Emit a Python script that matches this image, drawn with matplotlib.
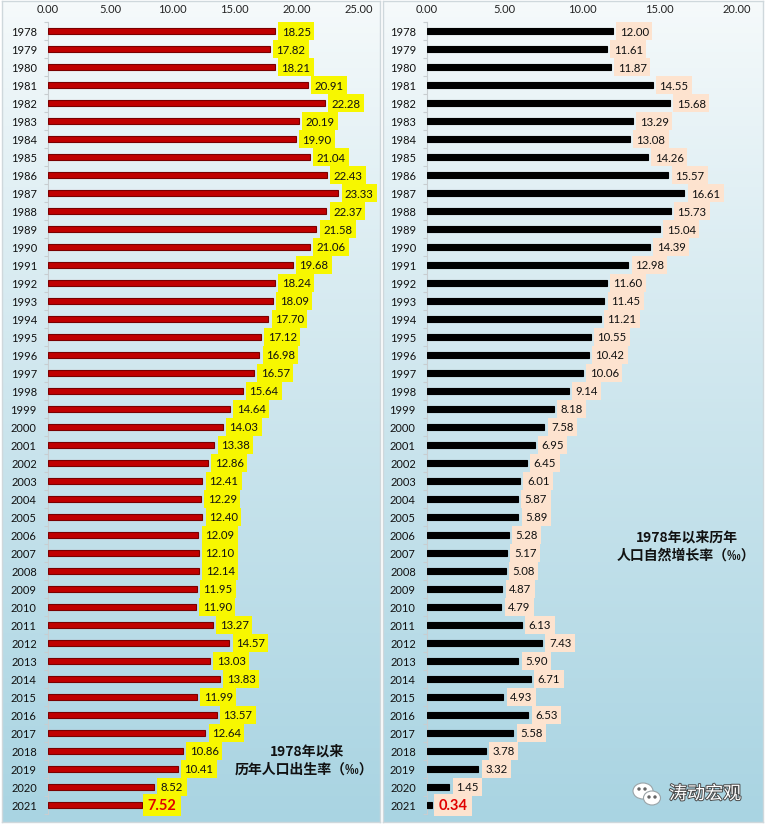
"""
1978年以来 出生率 / 自然增长率 — two-panel horizontal bar chart
"""

import matplotlib
matplotlib.use("Agg")
import matplotlib.pyplot as plt
import matplotlib.patches as mpatches
import matplotlib.patheffects as pe
import numpy as np
from matplotlib.colors import to_rgb

# ── Data ──────────────────────────────────────────────────────────────────────
years = [str(y) for y in range(1978, 2022)]

birth_rate = [18.25, 17.82, 18.21, 20.91, 22.28, 20.19, 19.90, 21.04, 22.43, 23.33,
              22.37, 21.58, 21.06, 19.68, 18.24, 18.09, 17.70, 17.12, 16.98, 16.57,
              15.64, 14.64, 14.03, 13.38, 12.86, 12.41, 12.29, 12.40, 12.09, 12.10,
              12.14, 11.95, 11.90, 13.27, 14.57, 13.03, 13.83, 11.99, 13.57, 12.64,
              10.86, 10.41, 8.52, 7.52]

growth_rate = [12.00, 11.61, 11.87, 14.55, 15.68, 13.29, 13.08, 14.26, 15.57, 16.61,
               15.73, 15.04, 14.39, 12.98, 11.60, 11.45, 11.21, 10.55, 10.42, 10.06,
               9.14, 8.18, 7.58, 6.95, 6.45, 6.01, 5.87, 5.89, 5.28, 5.17,
               5.08, 4.87, 4.79, 6.13, 7.43, 5.90, 6.71, 4.93, 6.53, 5.58,
               3.78, 3.32, 1.45, 0.34]

left_ticks = [0, 5, 10, 15, 20, 25]
right_ticks = [0, 5, 10, 15, 20]

# ── Style ─────────────────────────────────────────────────────────────────────
W, H = 766, 828
NUM_FONT = "Lato"
CJK = ["Noto Sans CJK SC", "DejaVu Sans"]
GRAD_TOP = "#f6fafb"
GRAD_BOT = "#a9d4e2"
BORDER = "#cfd8dc"
RED_BAR, RED_EDGE = "#c00000", "#7a0000"
YELLOW = "#f7f700"
PEACH = "#fde3cf"
HILITE = "#e00000"
LABEL_FS = 8.2

fig = plt.figure(figsize=(W / 100, H / 100), dpi=100, facecolor="white")


def px_axes(x0, y0, x1, y1, **kw):
    return fig.add_axes([x0 / W, 1 - y1 / H, (x1 - x0) / W, (y1 - y0) / H], **kw)


def gradient_panel(x0, y0, x1, y1):
    bg = px_axes(x0, y0, x1, y1, zorder=0)
    t = np.linspace(0, 1, 256)[:, None]
    c0, c1 = np.array(to_rgb(GRAD_TOP)), np.array(to_rgb(GRAD_BOT))
    img = (c0 + (c1 - c0) * t ** 0.9)[:, None, :]
    bg.imshow(img, aspect="auto", extent=(0, 1, 1, 0))
    bg.set_xticks([]); bg.set_yticks([])
    for s in bg.spines.values():
        s.set_color(BORDER)
        s.set_linewidth(1.0)
    return bg


def bar_panel(x0, x1, xmax, values, ticks, color, edge, box_color):
    ax = px_axes(x0, 23, x1, 815, zorder=2)
    ax.set_facecolor("none")
    n = len(values)
    y = np.arange(n)
    ax.barh(y, values, height=0.38, color=color, edgecolor=edge, linewidth=0.8, zorder=3)
    ax.set_ylim(n - 0.5, -0.5)
    ax.set_xlim(0, xmax)

    ax.set_yticks(y)
    ax.set_yticklabels(years, fontsize=8.0, fontfamily=NUM_FONT, color="#111111")
    ax.set_yticks(np.arange(-0.5, n, 1), minor=True)
    ax.tick_params(axis="y", which="major", length=0, pad=8)
    ax.tick_params(axis="y", which="minor", length=3, color="#c8cdd0", width=0.8)

    ax.xaxis.tick_top()
    ax.set_xticks(ticks)
    ax.set_xticklabels([f"{t:.2f}" for t in ticks], fontsize=8.0,
                       fontfamily=NUM_FONT, color="#222222")
    ax.tick_params(axis="x", length=0, pad=6)

    for side in ["top", "right", "bottom"]:
        ax.spines[side].set_visible(False)
    ax.spines["left"].set_color("#c8cdd0")
    ax.spines["left"].set_linewidth(0.8)

    for i, v in enumerate(values):
        last = i == n - 1
        fs = 10.5 if last else LABEL_FS
        ax.annotate(f"{v:.2f}", xy=(v, i), xytext=(0.3 * fs + (1.2 if last else 2.4), 0),
                    textcoords="offset points", ha="left", va="center",
                    fontsize=fs,
                    fontweight="bold" if last else "normal",
                    color=HILITE if last else "#111111",
                    fontfamily=NUM_FONT, zorder=5,
                    bbox=dict(boxstyle="square,pad=0.3", facecolor=box_color,
                              edgecolor="none"))
    return ax


# ── Panels ────────────────────────────────────────────────────────────────────
gradient_panel(2, 2, 380, 823)
gradient_panel(383, 2, 763, 823)

bar_panel(48, 378, 330 / 12.44, birth_rate, left_ticks, RED_BAR, RED_EDGE, YELLOW)
bar_panel(427, 761, 334 / 15.5, growth_rate, right_ticks, "#000000", "#000000", PEACH)

# ── Panel captions ────────────────────────────────────────────────────────────
fig.text(307 / W, 1 - 752 / H, "1978年以来", ha="center", va="center",
         fontsize=10, fontweight="bold", family=CJK, color="#111111", zorder=6)
fig.text(304 / W, 1 - 770 / H, "历年人口出生率（‰）", ha="center", va="center",
         fontsize=10, fontweight="bold", family=CJK, color="#111111", zorder=6)
fig.text(687 / W, 1 - 538 / H, "1978年以来历年", ha="center", va="center",
         fontsize=10, fontweight="bold", family=CJK, color="#111111", zorder=6)
fig.text(686 / W, 1 - 556 / H, "人口自然增长率（‰）", ha="center", va="center",
         fontsize=10, fontweight="bold", family=CJK, color="#111111", zorder=6)

# ── Watermark ────────────────────────────────────────────────────────────────
wm = px_axes(630, 778, 665, 812, zorder=6)
wm.set_xlim(0, 35); wm.set_ylim(34, 0); wm.axis("off")
wm.add_patch(mpatches.Ellipse((13, 14), 20, 16, facecolor="white", edgecolor="#9aa4a8", lw=0.8))
wm.add_patch(mpatches.Ellipse((22, 21), 17, 14, facecolor="white", edgecolor="#9aa4a8", lw=0.8))
for cx, cy in [(9, 12), (15, 12), (19, 20), (25, 20)]:
    wm.add_patch(mpatches.Circle((cx, cy), 1.0, color="#666666"))

fig.text(705 / W, 1 - 795 / H, "涛动宏观", ha="center", va="center",
         fontsize=13, family=CJK, color="white", zorder=7,
         path_effects=[pe.withStroke(linewidth=1.4, foreground="#4a4a4a")])

plt.savefig("out.png", dpi=100, facecolor="white")
